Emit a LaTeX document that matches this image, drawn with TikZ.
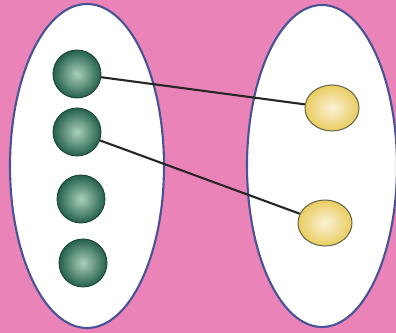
\documentclass[tikz,border=0pt]{standalone}
\usetikzlibrary{shapes.geometric}

\definecolor{bgpink}{RGB}{234,132,184}
\definecolor{rimblue}{RGB}{72,82,150}
\definecolor{ballgreen}{RGB}{36,96,76}
\definecolor{ballglow}{RGB}{170,208,186}
\definecolor{ballyellow}{RGB}{234,204,96}

\begin{document}
\begin{tikzpicture}[x=0.02cm, y=-0.02cm, line join=round,
		gball/.style={circle, minimum size=0.96cm, inner sep=0pt, draw=ballgreen!70!black, line width=0.5pt,
			inner color=ballglow, outer color=ballgreen},
		yball/.style={ellipse, minimum width=1.08cm, minimum height=0.92cm, inner sep=0pt, draw=rimblue!50!olive, line width=0.6pt,
			inner color=ballyellow!25!white, outer color=ballyellow},
		setline/.style={draw=rimblue, line width=1.2pt, fill=white},
		link/.style={line width=1.2pt, black!85}]
	
	% --- 1. 背景 ---
	\fill[bgpink] (0,0) rectangle (396,333);
	\useasboundingbox (0,0) rectangle (396,333);
	
	% --- 2. 两个集合 ---
	\draw[setline] (87,166) ellipse (77 and 162);
	\draw[setline] (322,166) ellipse (75 and 161);
	
	% --- 3. 左边的绿球 ---
	\node[gball] (g1) at (77,74) {};
	\node[gball] (g2) at (77,132) {};
	\node[gball] (g3) at (81,199) {};
	\node[gball] (g4) at (83,263) {};
	
	% --- 4. 右边的黄球 ---
	\node[yball] (y1) at (332,108) {};
	\node[yball] (y2) at (325,223) {};
	
	% --- 5. 连线 ---
	\draw[link] (g1) -- (y1);
	\draw[link] (g2) -- (y2);
	
\end{tikzpicture}
\end{document}
